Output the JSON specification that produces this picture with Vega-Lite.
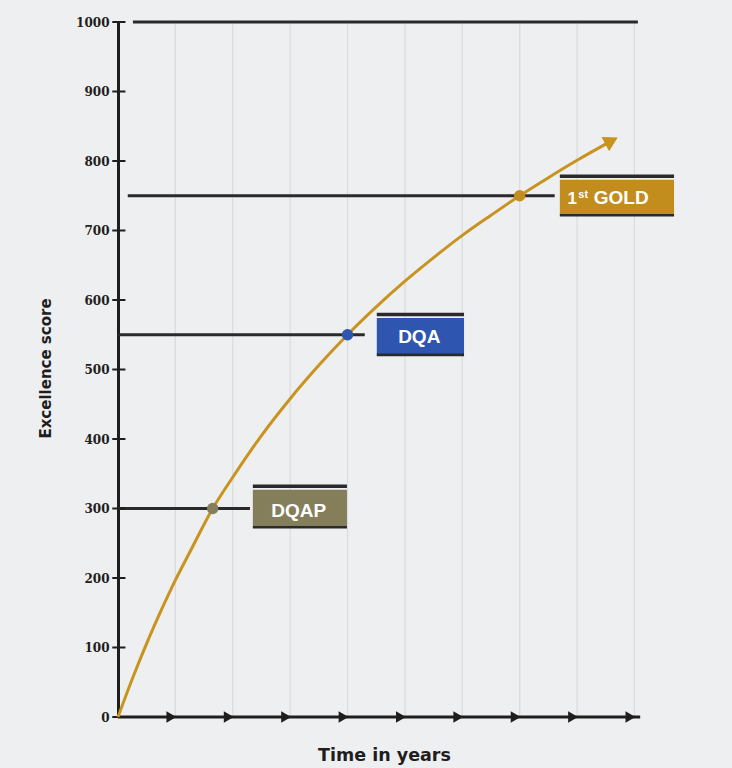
{
  "$schema": "https://vega.github.io/schema/vega-lite/v6.json",
  "autosize": {"type": "none"},
  "padding": {"left": 118, "top": 22, "right": 0, "bottom": 51},
  "width": 614,
  "height": 695,
  "background": "#eeeff0",
  "config": {"view": {"stroke": null}, "font": "DejaVu Sans"},
  "datasets": {
    "growth": [
      {"year": 0, "score": 0},
      {"year": 0.25, "score": 55},
      {"year": 0.5, "score": 106},
      {"year": 0.75, "score": 153},
      {"year": 1.0, "score": 197},
      {"year": 1.25, "score": 237},
      {"year": 1.65, "score": 300},
      {"year": 2.0, "score": 345},
      {"year": 2.5, "score": 405},
      {"year": 3.0, "score": 458},
      {"year": 3.5, "score": 506},
      {"year": 4.0, "score": 550},
      {"year": 4.5, "score": 590},
      {"year": 5.0, "score": 627},
      {"year": 5.5, "score": 661},
      {"year": 6.0, "score": 693},
      {"year": 6.5, "score": 722},
      {"year": 7.0, "score": 750},
      {"year": 7.5, "score": 776},
      {"year": 8.0, "score": 801},
      {"year": 8.6, "score": 829}
    ],
    "milestones": [
      {"name": "DQAP", "label": "DQAP", "year": 1.65, "score": 300, "box_from": 2.35, "box_to": 3.99, "box_mid": 3.15, "box_low": 273, "box_high": 327},
      {"name": "DQA", "label": "DQA", "year": 4.0, "score": 550, "box_from": 4.51, "box_to": 6.03, "box_mid": 5.25, "box_low": 521, "box_high": 574},
      {"name": "GOLD", "label": "GOLD", "rank": "1", "rank_suffix": "st", "year": 7.0, "score": 750, "box_from": 7.7, "box_to": 9.69, "box_mid": 8.77, "box_low": 722, "box_high": 773}
    ],
    "levels": [
      {"score": 300, "from": 0, "to": 2.3},
      {"score": 550, "from": 0, "to": 4.3},
      {"score": 750, "from": 0.17, "to": 7.61},
      {"score": 1000, "from": 0.26, "to": 9.06}
    ],
    "years": [
      {"year": 1}, {"year": 2}, {"year": 3}, {"year": 4}, {"year": 5},
      {"year": 6}, {"year": 7}, {"year": 8}, {"year": 9}
    ],
    "baseline": [{"from": 0, "to": 9.1, "score": 0}],
    "scores": [
      {"score": 0}, {"score": 100}, {"score": 200}, {"score": 300}, {"score": 400}, {"score": 500},
      {"score": 600}, {"score": 700}, {"score": 800}, {"score": 900}, {"score": 1000}
    ]
  },
  "layer": [
    {
      "data": {"name": "years"},
      "mark": {"type": "rule", "color": "#d9dbdc", "strokeWidth": 1.2},
      "encoding": {
        "x": {
          "field": "year",
          "type": "quantitative",
          "scale": {"domain": [0, 10.7], "nice": false, "zero": false},
          "axis": {
            "title": "Time in years",
            "domain": false,
            "ticks": false,
            "labels": false,
            "grid": false,
            "titleFont": "DejaVu Sans",
            "titleFontWeight": "bold",
            "titleFontSize": 17.5,
            "titleColor": "#1e1e1e",
            "titleX": 266,
            "titleY": 43,
            "titleAlign": "center",
            "titleBaseline": "alphabetic"
          }
        },
        "y": {
          "datum": 0,
          "type": "quantitative",
          "scale": {"domain": [0, 1000], "nice": false},
          "axis": {
            "title": "Excellence score",
            "values": [0, 100, 200, 300, 400, 500, 600, 700, 800, 900, 1000],
            "format": "d",
            "grid": false,
            "ticks": false,
            "domainColor": "#1e1e1e",
            "domainWidth": 3,
            "labelFont": "DejaVu Serif",
            "labelFontWeight": "bold",
            "labelFontSize": 12,
            "labelColor": "#1e1e1e",
            "labelPadding": 9,
            "titleFont": "DejaVu Sans",
            "titleFontWeight": "bold",
            "titleFontSize": 15,
            "titleColor": "#1e1e1e",
            "titleAngle": -90,
            "titleX": -73,
            "titleY": 346,
            "titleAlign": "center",
            "titleBaseline": "middle"
          }
        },
        "y2": {"datum": 1000}
      }
    },
    {
      "data": {"name": "levels"},
      "mark": {"type": "rule", "color": "#2a2a2a", "strokeWidth": 2.8},
      "encoding": {
        "x": {"field": "from", "type": "quantitative"},
        "x2": {"field": "to"},
        "y": {"field": "score", "type": "quantitative"}
      }
    },
    {
      "data": {"name": "baseline"},
      "mark": {"type": "rule", "color": "#1e1e1e", "strokeWidth": 3.2},
      "encoding": {
        "x": {"field": "from", "type": "quantitative"},
        "x2": {"field": "to"},
        "y": {"field": "score", "type": "quantitative"}
      }
    },
    {
      "data": {"name": "years"},
      "mark": {"type": "point", "shape": "triangle-right", "filled": true, "color": "#1e1e1e", "opacity": 1, "size": 130, "xOffset": -4},
      "encoding": {
        "x": {"field": "year", "type": "quantitative"},
        "y": {"datum": 0, "type": "quantitative"}
      }
    },
    {
      "data": {"name": "scores"},
      "mark": {"type": "rule", "color": "#1e1e1e", "strokeWidth": 2},
      "encoding": {
        "x": {"datum": -0.1, "type": "quantitative"},
        "x2": {"datum": 0.13},
        "y": {"field": "score", "type": "quantitative"}
      }
    },
    {
      "data": {"name": "growth"},
      "mark": {"type": "line", "color": "#c8931f", "strokeWidth": 3, "interpolate": "monotone"},
      "encoding": {
        "x": {"field": "year", "type": "quantitative"},
        "y": {"field": "score", "type": "quantitative"}
      }
    },
    {
      "data": {"name": "growth"},
      "transform": [{"filter": {"field": "year", "equal": 8.6}}],
      "mark": {"type": "point", "shape": "triangle-right", "filled": true, "color": "#c8931f", "opacity": 1, "size": 260, "angle": 332},
      "encoding": {
        "x": {"field": "year", "type": "quantitative"},
        "y": {"field": "score", "type": "quantitative"}
      }
    },
    {
      "data": {"name": "milestones"},
      "mark": {"type": "point", "filled": true, "opacity": 1, "size": 130},
      "encoding": {
        "x": {"field": "year", "type": "quantitative"},
        "y": {"field": "score", "type": "quantitative"},
        "color": {
          "field": "name",
          "type": "nominal",
          "scale": {"domain": ["DQAP", "DQA", "GOLD"], "range": ["#857e5b", "#2e56b0", "#c38d1e"]},
          "legend": null
        }
      }
    },
    {
      "data": {"name": "milestones"},
      "mark": {"type": "rect"},
      "encoding": {
        "x": {"field": "box_from", "type": "quantitative"},
        "x2": {"field": "box_to"},
        "y": {"field": "box_low", "type": "quantitative"},
        "y2": {"field": "box_high"},
        "color": {
          "field": "name",
          "type": "nominal",
          "scale": {"domain": ["DQAP", "DQA", "GOLD"], "range": ["#8b7c54", "#2e56b0", "#bb891b"]},
          "legend": null
        }
      }
    },
    {
      "data": {"name": "milestones"},
      "mark": {"type": "rule", "color": "#2a2a2a", "strokeWidth": 3.5, "yOffset": -3.5},
      "encoding": {
        "x": {"field": "box_from", "type": "quantitative"},
        "x2": {"field": "box_to"},
        "y": {"field": "box_high", "type": "quantitative"}
      }
    },
    {
      "data": {"name": "milestones"},
      "mark": {"type": "rule", "color": "#2a2a2a", "strokeWidth": 2.6},
      "encoding": {
        "x": {"field": "box_from", "type": "quantitative"},
        "x2": {"field": "box_to"},
        "y": {"field": "box_low", "type": "quantitative"}
      }
    },
    {
      "data": {"name": "milestones"},
      "mark": {"type": "text", "color": "#ffffff", "font": "Liberation Sans", "fontWeight": "bold", "fontSize": 19, "align": "center", "baseline": "middle", "dy": 2},
      "encoding": {
        "x": {"field": "box_mid", "type": "quantitative"},
        "y": {"field": "score", "type": "quantitative"},
        "text": {"field": "label"}
      }
    },
    {
      "data": {"name": "milestones"},
      "transform": [{"filter": "isValid(datum.rank)"}],
      "mark": {"type": "text", "color": "#ffffff", "font": "Liberation Sans", "fontWeight": "bold", "fontSize": 17, "align": "center", "baseline": "middle", "dy": 3, "dx": -49},
      "encoding": {
        "x": {"field": "box_mid", "type": "quantitative"},
        "y": {"field": "score", "type": "quantitative"},
        "text": {"field": "rank"}
      }
    },
    {
      "data": {"name": "milestones"},
      "transform": [{"filter": "isValid(datum.rank)"}],
      "mark": {"type": "text", "color": "#ffffff", "font": "Liberation Sans", "fontWeight": "bold", "fontSize": 11, "align": "center", "baseline": "middle", "dy": -1, "dx": -38},
      "encoding": {
        "x": {"field": "box_mid", "type": "quantitative"},
        "y": {"field": "score", "type": "quantitative"},
        "text": {"field": "rank_suffix"}
      }
    }
  ]
}
